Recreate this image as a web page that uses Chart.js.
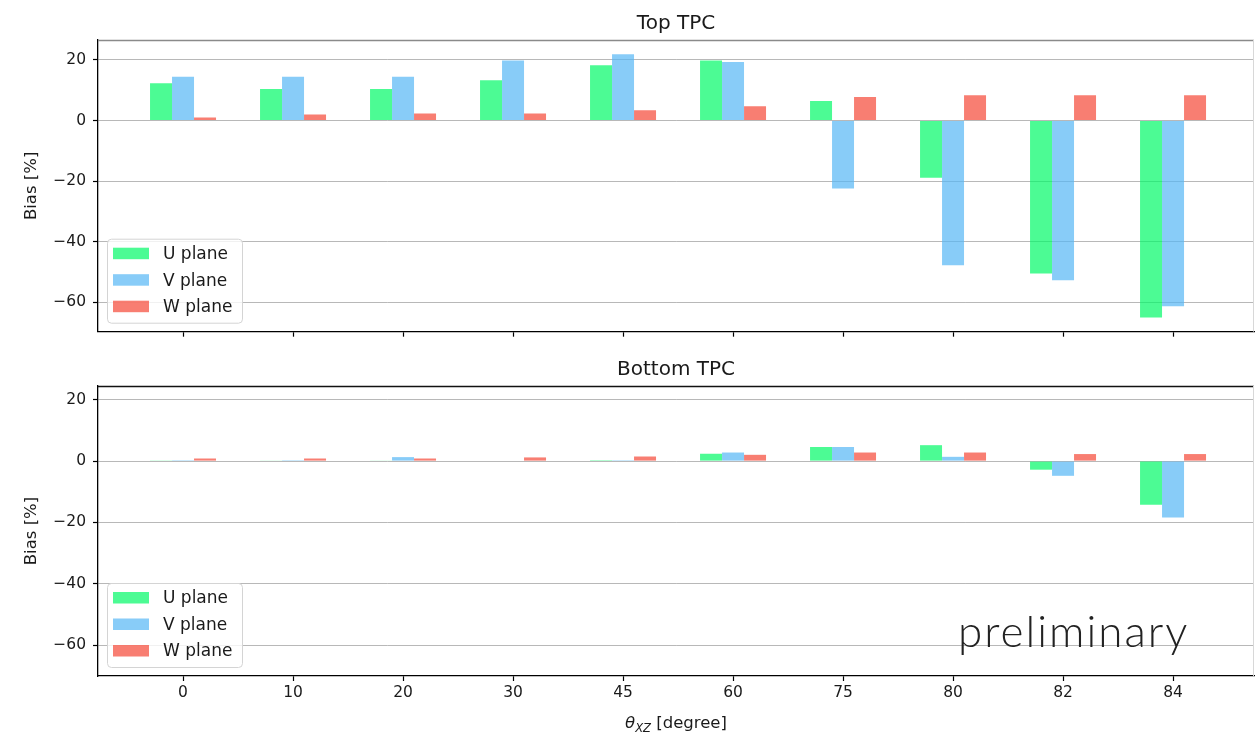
<!DOCTYPE html>
<html>
<head>
<meta charset="utf-8">
<script src="https://cdn.jsdelivr.net/npm/chart.js@4.4.1/dist/chart.umd.min.js"></script>
<style>
  html, body { margin: 0; padding: 0; background: #fff; }
  #wrap { position: relative; width: 1256px; height: 736px; overflow: hidden; background: #fff; }
  #c1 { position: absolute; left: 0; top: 0; z-index: 2; }
  #c2 { position: absolute; left: 0; top: 345px; z-index: 1; }
</style>
</head>
<body>
<div id="wrap">
  <canvas id="c1" width="1256" height="348"></canvas>
  <canvas id="c2" width="1256" height="391"></canvas>
</div>
<script>
// Incidence angles in the XZ plane (degrees)
const angleLabels = ['0', '10', '20', '30', '45', '60', '75', '80', '82', '84'];
const planeLabels = ['U plane', 'V plane', 'W plane'];
const yTickValues = [-60, -40, -20, 0, 20];

// Bias [%] per wire plane, top TPC
const topU = [12.3, 10.4, 10.4, 13.3, 18.3, 19.8, 6.5, -18.9, -50.5, -65.0];
const topV = [14.5, 14.5, 14.5, 19.8, 21.9, 19.3, -22.4, -47.8, -52.7, -61.3];
const topW = [1.0, 2.0, 2.3, 2.3, 3.4, 4.7, 7.8, 8.4, 8.4, 8.4];

// Bias [%] per wire plane, bottom TPC
const bottomU = [0.1, 0.2, 0.2, 0.0, 0.3, 2.4, 4.6, 5.2, -2.8, -14.2];
const bottomV = [0.3, 0.3, 1.3, 0.0, 0.3, 2.8, 4.6, 1.4, -4.8, -18.4];
const bottomW = [0.85, 0.85, 0.85, 1.2, 1.5, 2.05, 2.8, 2.8, 2.3, 2.3];

const planeColors = ['rgba(0,249,102,0.7)', 'rgba(85,182,245,0.7)', 'rgba(245,71,54,0.7)'];

const FONT = "'DejaVu Sans', sans-serif";
const TICK_SIZE = 15.5;
const LABEL_SIZE = 16.5;
const LEGEND_SIZE = 17;
const TEXT_COLOR = '#1a1a1a';

function fmtTick(v) {
  return v < 0 ? '\u2212' + Math.abs(v) : String(v);
}

function toPoints(values) {
  return values.map((v, i) => ({ x: i, y: v }));
}

// Titles, y label, frame, in-axes legend and the annotations
const decorations = {
  id: 'decorations',
  afterDraw(chart, args, opts) {
    const ctx = chart.ctx;
    const a = chart.chartArea;
    ctx.save();

    // top and right spines
    ctx.lineWidth = 1.3;
    ctx.strokeStyle = opts.topColor;
    ctx.beginPath();
    ctx.moveTo(a.left, a.top + 0.5);
    ctx.lineTo(a.right, a.top + 0.5);
    ctx.stroke();
    ctx.strokeStyle = '#d8d8d8';
    ctx.lineWidth = 1;
    ctx.beginPath();
    ctx.moveTo(a.right - 0.5, a.top);
    ctx.lineTo(a.right - 0.5, a.bottom);
    ctx.stroke();

    // subplot title
    ctx.fillStyle = TEXT_COLOR;
    ctx.font = `20px ${FONT}`;
    ctx.textAlign = 'center';
    ctx.textBaseline = 'alphabetic';
    ctx.fillText(opts.title, (a.left + a.right) / 2, a.top - 11);

    // y axis label
    ctx.save();
    ctx.translate(32, (a.top + a.bottom) / 2);
    ctx.rotate(-Math.PI / 2);
    ctx.font = `${LABEL_SIZE}px ${FONT}`;
    ctx.textAlign = 'center';
    ctx.textBaseline = 'middle';
    ctx.fillText('Bias [%]', 0, 0);
    ctx.restore();

    // legend box in the lower-left corner
    const bx = a.left + 9, bw = 135, bh = 84;
    const by = a.bottom - 9 - bh;
    ctx.fillStyle = 'rgba(255,255,255,0.8)';
    ctx.strokeStyle = '#d4d4d4';
    ctx.lineWidth = 1;
    ctx.beginPath();
    ctx.roundRect(bx + 0.5, by + 0.5, bw, bh, 4);
    ctx.fill();
    ctx.stroke();
    ctx.font = `${LEGEND_SIZE}px ${FONT}`;
    ctx.textAlign = 'left';
    ctx.textBaseline = 'middle';
    chart.data.datasets.forEach((ds, i) => {
      const cy = by + 15 + i * 26.5;
      ctx.fillStyle = ds.backgroundColor;
      ctx.fillRect(bx + 6, cy - 6, 36, 11.5);
      ctx.fillStyle = TEXT_COLOR;
      ctx.fillText(ds.label, bx + 56, cy + 1);
    });

    if (opts.xTitle) {
      // θ_XZ [degree]
      const base = a.bottom + 52;
      const parts = [
        { t: '\u03b8', f: `italic ${LABEL_SIZE}px ${FONT}`, dy: 0 },
        { t: 'XZ', f: `italic ${LABEL_SIZE * 0.7}px ${FONT}`, dy: 3.5 },
        { t: ' [degree]', f: `${LABEL_SIZE}px ${FONT}`, dy: 0 }
      ];
      let total = 0;
      parts.forEach(p => { ctx.font = p.f; p.w = ctx.measureText(p.t).width; total += p.w; });
      let x = (a.left + a.right) / 2 - total / 2;
      ctx.fillStyle = TEXT_COLOR;
      ctx.textBaseline = 'alphabetic';
      parts.forEach(p => { ctx.font = p.f; ctx.fillText(p.t, x, base + p.dy); x += p.w; });
    }

    if (opts.note) {
      ctx.font = `300 44px Lato, 'Open Sans', sans-serif`;
      ctx.letterSpacing = '2px';
      ctx.fillStyle = '#222';
      ctx.textAlign = 'left';
      ctx.textBaseline = 'alphabetic';
      ctx.fillText(opts.note, a.left + 860, a.bottom - 29);
      ctx.letterSpacing = '0px';
    }
    ctx.restore();
  }
};

function makeChart(canvasId, cfg) {
  const datasets = [cfg.u, cfg.v, cfg.w].map((vals, i) => ({
    label: planeLabels[i],
    data: toPoints(vals),
    backgroundColor: planeColors[i],
    borderWidth: 0,
    categoryPercentage: 0.6,
    barPercentage: 1.0
  }));
  return new Chart(document.getElementById(canvasId), {
    type: 'bar',
    data: { datasets },
    plugins: [decorations],
    options: {
      responsive: false,
      animation: false,
      layout: { padding: { top: cfg.padTop, right: 2, left: 0, bottom: 0 } },
      plugins: {
        legend: { display: false },
        title: { display: false },
        tooltip: { enabled: false },
        decorations: { title: cfg.title, topColor: cfg.topColor, xTitle: cfg.xTitle, note: cfg.note }
      },
      scales: {
        x: {
          type: 'linear',
          offset: false,
          min: -0.773,
          max: 9.736,
          afterBuildTicks: s => { s.ticks = angleLabels.map((_, i) => ({ value: i })); },
          afterFit: s => { s.height = cfg.xAxisHeight; },
          ticks: {
            display: cfg.showXLabels,
            autoSkip: false,
            maxRotation: 0,
            padding: 3,
            color: TEXT_COLOR,
            font: { family: FONT, size: TICK_SIZE },
            callback: (v, idx) => angleLabels[idx]
          },
          grid: { offset: false, drawOnChartArea: false, drawTicks: true, tickLength: 5, tickColor: '#000', tickWidth: 1.2 },
          border: { display: true, color: '#000', width: 1.3 }
        },
        y: {
          min: cfg.yMin,
          max: cfg.yMax,
          afterBuildTicks: s => { s.ticks = yTickValues.map(v => ({ value: v })); },
          afterFit: s => { s.width = 98; },
          ticks: {
            padding: 7,
            color: TEXT_COLOR,
            font: { family: FONT, size: TICK_SIZE },
            callback: v => fmtTick(v)
          },
          grid: { color: '#b8b8b8', lineWidth: 1, drawTicks: true, tickLength: 5, tickColor: '#000', tickWidth: 1.2 },
          border: { display: true, color: '#000', width: 1.3 }
        }
      }
    }
  });
}

makeChart('c1', {
  u: topU, v: topV, w: topW,
  title: 'Top TPC',
  topColor: '#8a8a8a',
  yMin: -69.7, yMax: 26.6,
  padTop: 40, xAxisHeight: 7,
  showXLabels: false
});

makeChart('c2', {
  u: bottomU, v: bottomV, w: bottomW,
  title: 'Bottom TPC',
  topColor: '#111',
  yMin: -70.1, yMax: 24.5,
  padTop: 41, xAxisHeight: 60,
  showXLabels: true,
  xTitle: true,
  note: 'preliminary'
});
</script>
</body>
</html>
